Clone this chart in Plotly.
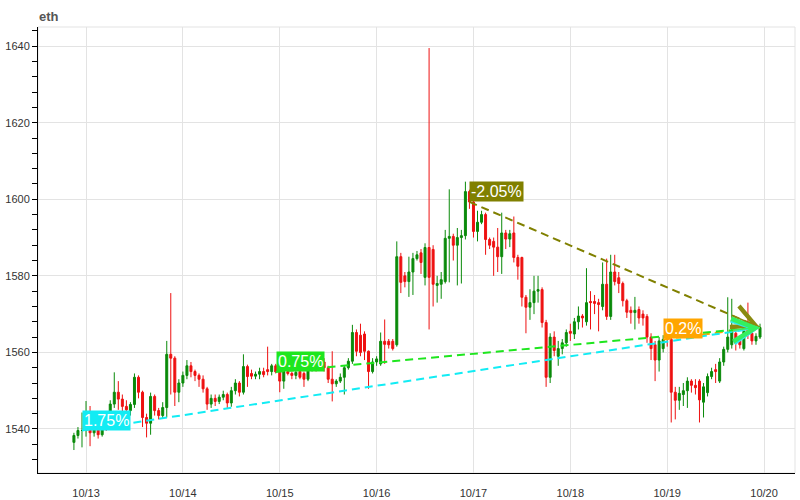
import pandas as pd
import plotly.graph_objects as go

# ---- data (hourly ETH candles) ----
opens = [1536.5, 1538.3, 1539.6, 1539.6, 1540.5, 1539.0, 1540.0, 1538.5, 1541.0, 1540.5,
         1546.5, 1549.6, 1547.8, 1545.9, 1544.8, 1546.4, 1553.5, 1549.6, 1543.0, 1541.5,
         1548.5, 1544.8, 1543.5, 1545.6, 1559.5, 1558.5, 1549.6, 1552.0, 1554.0, 1556.5,
         1555.0, 1554.0, 1553.0, 1550.5, 1546.5, 1548.0, 1547.2, 1548.3, 1549.0, 1546.8,
         1550.0, 1552.0, 1549.6, 1556.3, 1554.5, 1553.8, 1554.3, 1555.0, 1555.5, 1555.0,
         1556.5, 1554.9, 1552.5, 1555.0, 1554.5, 1554.0, 1555.0, 1554.5, 1553.0, 1555.5,
         1556.5, 1556.5, 1557.5, 1556.0, 1553.0, 1551.8, 1552.5, 1553.5, 1556.0, 1557.7,
         1565.2, 1564.5, 1564.8, 1560.3, 1555.0, 1557.5, 1557.0, 1562.9, 1562.9, 1562.9,
         1562.0, 1585.0, 1580.0, 1578.5, 1581.0, 1584.5, 1586.0, 1579.6, 1587.4, 1586.9,
         1577.5, 1577.8, 1578.5, 1589.8, 1590.3, 1588.0, 1590.0, 1590.5, 1602.0, 1599.3,
         1591.6, 1594.0, 1596.0, 1589.5, 1589.0, 1587.5, 1585.0, 1591.2, 1589.6, 1591.2,
         1584.8, 1584.8, 1574.4, 1571.8, 1573.0, 1576.0, 1576.4, 1567.8, 1553.5, 1564.0,
         1559.0, 1561.0, 1562.5, 1565.5, 1564.8, 1568.0, 1569.5, 1568.0, 1573.3, 1573.3,
         1573.0, 1572.0, 1577.8, 1569.4, 1581.0, 1579.5, 1578.0, 1573.5, 1571.0, 1570.4,
         1571.2, 1570.0, 1569.4, 1564.0, 1562.0, 1558.0, 1561.0, 1564.0, 1563.4, 1549.6,
         1547.5, 1549.0, 1550.0, 1552.5, 1551.4, 1552.5, 1547.0, 1549.5, 1553.7, 1555.5,
         1552.5, 1557.5, 1560.8, 1562.0, 1565.0, 1563.0, 1561.0, 1566.0, 1565.0, 1563.0,
         1564.0]
highs = [1539.0, 1540.5, 1544.3, 1547.3, 1546.0, 1541.0, 1541.0, 1542.0, 1542.0, 1547.5,
         1554.8, 1552.5, 1549.0, 1547.5, 1547.0, 1554.5, 1554.0, 1550.0, 1544.0, 1549.5,
         1549.0, 1545.5, 1547.0, 1563.0, 1575.5, 1559.0, 1553.0, 1555.0, 1558.0, 1557.5,
         1555.5, 1554.5, 1554.0, 1551.0, 1549.0, 1549.0, 1549.0, 1550.0, 1549.5, 1551.0,
         1553.0, 1552.5, 1559.5, 1556.8, 1555.5, 1555.0, 1556.0, 1556.0, 1561.5, 1557.0,
         1557.0, 1556.0, 1556.0, 1556.0, 1555.0, 1555.5, 1555.5, 1555.0, 1556.5, 1557.0,
         1557.0, 1558.0, 1558.5, 1556.5, 1560.3, 1553.0, 1554.5, 1556.5, 1558.5, 1567.2,
         1566.0, 1567.5, 1565.5, 1560.5, 1558.5, 1559.0, 1565.2, 1568.6, 1563.5, 1563.5,
         1589.0, 1586.0, 1581.0, 1585.0, 1586.0, 1586.5, 1587.0, 1588.5, 1639.5, 1588.0,
         1580.0, 1581.0, 1592.0, 1602.6, 1591.0, 1592.5, 1592.0, 1604.6, 1602.5, 1600.0,
         1597.0, 1597.0, 1596.5, 1590.0, 1590.0, 1592.5, 1596.5, 1592.0, 1592.0, 1595.5,
         1585.5, 1585.0, 1575.0, 1576.5, 1580.0, 1580.0, 1577.0, 1568.5, 1565.0, 1565.5,
         1563.0, 1563.5, 1566.0, 1567.5, 1569.0, 1572.0, 1570.0, 1582.0, 1576.0, 1575.0,
         1574.0, 1583.5, 1584.5, 1585.5, 1585.5, 1581.0, 1578.5, 1574.0, 1572.0, 1574.5,
         1572.0, 1571.0, 1570.0, 1565.0, 1563.0, 1564.0, 1564.5, 1565.5, 1564.0, 1551.0,
         1551.0, 1552.0, 1553.5, 1553.0, 1553.0, 1553.0, 1552.0, 1554.5, 1556.0, 1557.0,
         1558.5, 1561.5, 1574.4, 1574.0, 1566.0, 1564.0, 1567.5, 1573.0, 1566.0, 1565.0,
         1567.5]
lows = [1534.5, 1537.5, 1535.2, 1538.0, 1535.5, 1538.0, 1537.5, 1538.0, 1539.5, 1540.0,
        1545.5, 1545.0, 1542.5, 1544.0, 1543.5, 1545.5, 1548.0, 1540.5, 1537.8, 1538.5,
        1543.5, 1542.5, 1542.8, 1543.0, 1549.0, 1546.0, 1547.0, 1551.0, 1553.0, 1553.5,
        1552.5, 1551.0, 1549.5, 1545.0, 1545.5, 1546.0, 1546.5, 1547.5, 1545.5, 1545.8,
        1549.0, 1548.5, 1549.0, 1551.0, 1553.0, 1553.0, 1553.0, 1553.5, 1554.0, 1554.0,
        1554.5, 1549.6, 1550.5, 1554.0, 1553.0, 1553.0, 1553.0, 1551.0, 1552.5, 1555.0,
        1555.0, 1555.5, 1555.0, 1552.0, 1547.2, 1551.0, 1552.0, 1549.0, 1555.5, 1557.0,
        1559.0, 1559.0, 1558.0, 1550.5, 1554.5, 1556.5, 1556.5, 1557.0, 1561.0, 1560.5,
        1561.5, 1575.5, 1577.0, 1574.5, 1575.0, 1584.0, 1580.5, 1577.5, 1566.0, 1572.0,
        1573.0, 1574.0, 1578.0, 1578.3, 1584.0, 1577.5, 1578.0, 1589.5, 1597.5, 1590.0,
        1589.0, 1593.5, 1585.5, 1587.0, 1580.0, 1581.0, 1580.5, 1587.0, 1587.5, 1583.5,
        1579.0, 1572.0, 1565.0, 1568.5, 1570.0, 1573.0, 1566.5, 1551.0, 1552.0, 1559.0,
        1556.5, 1559.5, 1561.5, 1563.0, 1563.5, 1566.0, 1566.5, 1567.0, 1566.0, 1570.0,
        1565.5, 1571.0, 1568.5, 1568.5, 1577.5, 1575.5, 1572.0, 1569.0, 1567.5, 1566.0,
        1567.5, 1567.0, 1562.5, 1558.0, 1552.5, 1555.0, 1560.0, 1561.5, 1541.7, 1542.5,
        1545.0, 1546.0, 1545.5, 1549.5, 1549.0, 1541.7, 1543.0, 1548.5, 1553.0, 1552.0,
        1552.0, 1556.5, 1560.0, 1561.0, 1560.5, 1561.0, 1560.5, 1563.5, 1562.0, 1562.0,
        1563.5]
closes = [1538.3, 1539.6, 1539.6, 1540.5, 1539.0, 1540.0, 1538.5, 1541.0, 1540.5, 1546.5,
          1549.6, 1547.8, 1545.9, 1545.0, 1546.4, 1553.5, 1549.6, 1543.0, 1541.5, 1548.5,
          1544.8, 1543.5, 1545.6, 1559.5, 1558.5, 1549.6, 1552.0, 1554.0, 1556.5, 1555.0,
          1554.0, 1553.0, 1550.5, 1546.5, 1548.0, 1547.2, 1548.3, 1549.0, 1546.8, 1550.0,
          1552.0, 1549.6, 1556.3, 1553.7, 1553.8, 1554.3, 1555.0, 1554.2, 1555.0, 1556.5,
          1554.9, 1552.5, 1555.0, 1554.5, 1554.0, 1554.8, 1553.5, 1553.0, 1555.5, 1556.2,
          1556.0, 1556.0, 1556.0, 1553.0, 1551.8, 1552.5, 1553.5, 1556.0, 1557.7, 1565.2,
          1560.3, 1560.0, 1560.3, 1555.0, 1557.5, 1558.3, 1562.9, 1562.1, 1562.0, 1561.0,
          1585.0, 1578.3, 1578.5, 1581.0, 1584.5, 1585.5, 1583.5, 1587.4, 1579.6, 1577.8,
          1578.0, 1579.0, 1589.8, 1590.3, 1588.0, 1590.0, 1590.5, 1602.0, 1599.3, 1591.6,
          1594.0, 1596.0, 1589.5, 1588.0, 1587.5, 1585.0, 1591.2, 1589.6, 1591.0, 1584.8,
          1582.5, 1574.4, 1571.8, 1573.0, 1576.0, 1576.4, 1567.8, 1553.5, 1564.0, 1560.5,
          1561.0, 1562.5, 1565.2, 1565.0, 1568.0, 1569.5, 1569.0, 1573.0, 1573.0, 1572.8,
          1572.5, 1577.8, 1569.4, 1581.0, 1578.5, 1578.0, 1573.5, 1570.5, 1570.4, 1571.0,
          1569.0, 1569.0, 1564.0, 1561.0, 1558.0, 1563.0, 1563.4, 1563.4, 1549.6, 1547.5,
          1549.3, 1550.0, 1552.5, 1551.4, 1550.8, 1547.6, 1551.0, 1553.7, 1555.0, 1555.0,
          1557.5, 1560.8, 1564.0, 1565.5, 1563.0, 1562.0, 1565.5, 1565.0, 1563.0, 1564.2,
          1566.5]

dates = pd.date_range("2023-10-12 21:00", periods=len(closes), freq="h")

# change markers: start candle index, label text, colour
mark_index = [2, 50, 98, 146]
mark_labels = ["1.75%", "0.75%", "-2.05%", "0.2%"]
mark_colors = ["#12ecf4", "#1ee61e", "#808000", "#ffa500"]
arrow_colors = ["#2ee8f0", "#33f060", "#8a8a10", "#ffa500"]
arrow_back = 7  # candles spanned by the solid arrow shaft at the end

fig = go.Figure()
fig.add_trace(go.Candlestick(
    x=dates, open=opens, high=highs, low=lows, close=closes,
    increasing=dict(line=dict(color="#0a8a0a", width=1), fillcolor="#0a8a0a"),
    decreasing=dict(line=dict(color="#ee1111", width=1), fillcolor="#ee1111"),
    whiskerwidth=0, showlegend=False, hoverinfo="skip"))

end_i = len(closes) - 1
end_x, end_y = dates[end_i], closes[end_i]
draw_order = [3, 2, 0, 1]
for k in draw_order:
    s = mark_index[k]
    fig.add_shape(type="line", x0=dates[s], y0=closes[s], x1=end_x, y1=end_y,
                  xref="x", yref="y",
                  line=dict(color=mark_colors[k], width=2, dash="8px,5px"))
for k in draw_order:
    s = mark_index[k]
    frac = arrow_back / (end_i - s)
    prev_y = end_y - (end_y - closes[s]) * frac
    fig.add_annotation(x=end_x, y=end_y, ax=dates[end_i - arrow_back], ay=prev_y,
                       axref="x", ayref="y", xref="x", yref="y", text="",
                       showarrow=True, arrowhead=5, arrowsize=3.0, arrowwidth=1.5,
                       arrowcolor=arrow_colors[k], standoff=0)
for k in range(len(mark_index)):
    s = mark_index[k]
    fig.add_annotation(x=dates[s], y=closes[s], xref="x", yref="y",
                       text=mark_labels[k], showarrow=False,
                       xanchor="left", yanchor="bottom",
                       bgcolor=mark_colors[k], borderpad=1,
                       font=dict(color="white", size=16,
                                 family="Liberation Sans, Arial, sans-serif"))

# light frame on top / right
fig.add_shape(type="rect", xref="paper", yref="paper", x0=0, y0=0, x1=1, y1=1,
              line=dict(color="#e3e3e3", width=1), layer="below")

fig.update_layout(
    width=800, height=500,
    margin=dict(l=38, r=5, t=27, b=27, autoexpand=False),
    paper_bgcolor="white", plot_bgcolor="white",
    font=dict(family="Liberation Sans, Arial, sans-serif", color="#333", size=11),
    title=dict(text="<b>eth</b>", x=39 / 800, xref="container", xanchor="left",
               y=1 - 16 / 500, yref="container", yanchor="middle",
               pad=dict(l=0, r=0, t=0, b=0), automargin=False,
               font=dict(size=13, color="#555")),
    xaxis=dict(type="date", range=["2023-10-12 12:06", "2023-10-20 07:40"],
               tickformat="%m/%d", dtick=86400000, tick0="2023-10-13",
               showgrid=True, gridcolor="#e3e3e3", gridwidth=1,
               showline=True, linecolor="black", linewidth=1,
               ticks="", ticklabelstandoff=10, rangeslider=dict(visible=False),
               tickfont=dict(size=11, color="#333"), zeroline=False,
               automargin=False),
    yaxis=dict(range=[1528.5, 1645], dtick=20, tick0=1540,
               showgrid=True, gridcolor="#e3e3e3", gridwidth=1,
               showline=True, linecolor="black", linewidth=1,
               ticks="outside", ticklen=5, tickcolor="black",
               minor=dict(dtick=4, ticks="outside", ticklen=5, tickcolor="black",
                          showgrid=False),
               tickfont=dict(size=11, color="#333"), zeroline=False,
               automargin=False),
)

fig.write_html("out.html", config={"displayModeBar": False},
               post_script="document.body.style.margin='0';"
                           "document.body.style.padding='0';")
